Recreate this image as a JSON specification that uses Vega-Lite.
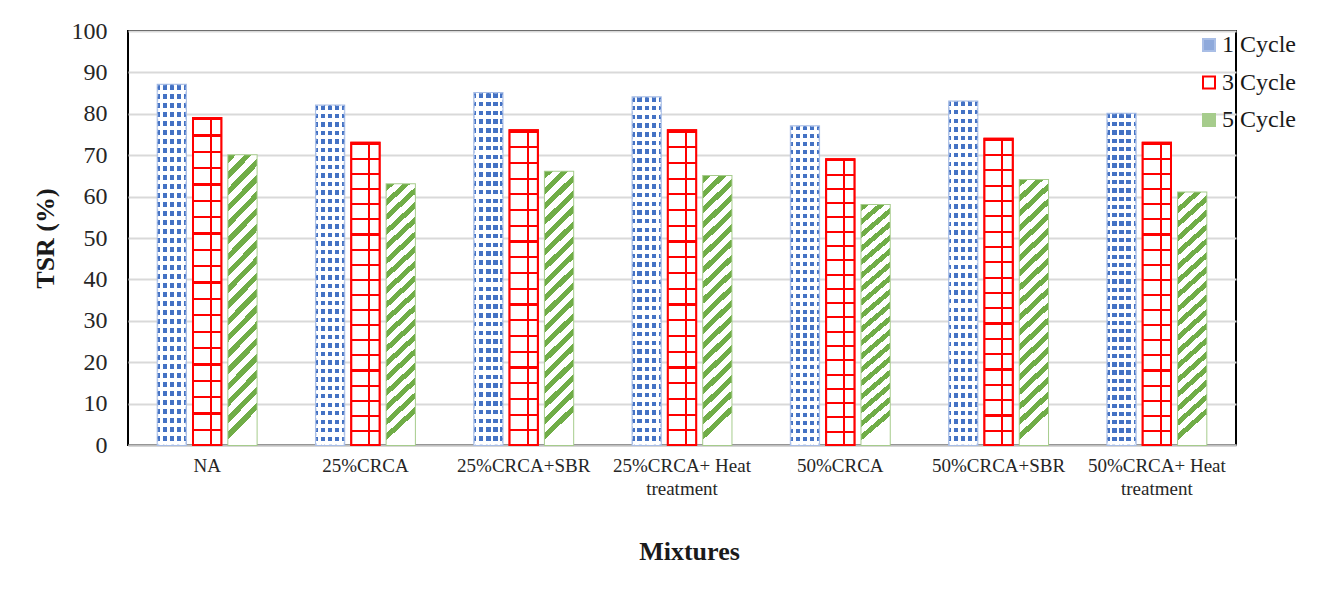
{
"$schema": "https://vega.github.io/schema/vega-lite/v6.json",
"autosize": "none",
"width": 1108,
"height": 414,
"padding": {"left": 128, "top": 31, "right": 93, "bottom": 154},
"background": "#ffffff",
"config": {"font": "Liberation Serif", "view": {"stroke": "#000000", "strokeWidth": 2}},
"data": {"values": [
{"Mixture": "NA", "Cycle": "1 Cycle", "TSR": 87},
{"Mixture": "NA", "Cycle": "3 Cycle", "TSR": 79},
{"Mixture": "NA", "Cycle": "5 Cycle", "TSR": 70},
{"Mixture": "25%CRCA", "Cycle": "1 Cycle", "TSR": 82},
{"Mixture": "25%CRCA", "Cycle": "3 Cycle", "TSR": 73},
{"Mixture": "25%CRCA", "Cycle": "5 Cycle", "TSR": 63},
{"Mixture": "25%CRCA+SBR", "Cycle": "1 Cycle", "TSR": 85},
{"Mixture": "25%CRCA+SBR", "Cycle": "3 Cycle", "TSR": 76},
{"Mixture": "25%CRCA+SBR", "Cycle": "5 Cycle", "TSR": 66},
{"Mixture": "25%CRCA+ Heat treatment", "Cycle": "1 Cycle", "TSR": 84},
{"Mixture": "25%CRCA+ Heat treatment", "Cycle": "3 Cycle", "TSR": 76},
{"Mixture": "25%CRCA+ Heat treatment", "Cycle": "5 Cycle", "TSR": 65},
{"Mixture": "50%CRCA", "Cycle": "1 Cycle", "TSR": 77},
{"Mixture": "50%CRCA", "Cycle": "3 Cycle", "TSR": 69},
{"Mixture": "50%CRCA", "Cycle": "5 Cycle", "TSR": 58},
{"Mixture": "50%CRCA+SBR", "Cycle": "1 Cycle", "TSR": 83},
{"Mixture": "50%CRCA+SBR", "Cycle": "3 Cycle", "TSR": 74},
{"Mixture": "50%CRCA+SBR", "Cycle": "5 Cycle", "TSR": 64},
{"Mixture": "50%CRCA+ Heat treatment", "Cycle": "1 Cycle", "TSR": 80},
{"Mixture": "50%CRCA+ Heat treatment", "Cycle": "3 Cycle", "TSR": 73},
{"Mixture": "50%CRCA+ Heat treatment", "Cycle": "5 Cycle", "TSR": 61}
]},
"encoding": {
"x": {"field": "Mixture", "type": "nominal", "title": "Mixtures",
 "sort": ["NA", "25%CRCA", "25%CRCA+SBR", "25%CRCA+ Heat treatment", "50%CRCA", "50%CRCA+SBR", "50%CRCA+ Heat treatment"],
 "scale": {"paddingInner": 0.375, "paddingOuter": 0.1875},
 "axis": {"labelAngle": 0, "labelFont": "Liberation Serif", "labelFontSize": 19, "labelColor": "#262626", "labelLineHeight": 23, "labelPadding": 11, "labelLimit": 0,
  "labelExpr": "indexof(datum.label, ' treatment') > 0 ? [replace(datum.label, ' treatment', ''), 'treatment'] : datum.label",
  "ticks": false, "domainColor": "#BFBFBF", "domainWidth": 2,
  "titleFont": "Liberation Serif", "titleFontSize": 26, "titleFontWeight": "bold", "titleColor": "#1a1a1a", "titlePadding": 40, "titleX": 561}},
"xOffset": {"field": "Cycle", "type": "nominal", "scale": {"domain": ["1 Cycle", "3 Cycle", "5 Cycle"], "paddingInner": 0.2, "paddingOuter": 0}},
"y": {"field": "TSR", "type": "quantitative", "title": "TSR (%)",
 "scale": {"domain": [0, 100], "nice": false},
 "axis": {"values": [0, 10, 20, 30, 40, 50, 60, 70, 80, 90, 100], "grid": true, "gridColor": "#D9D9D9", "gridWidth": 2, "domain": false, "ticks": false,
  "labelFont": "Liberation Serif", "labelFontSize": 24, "labelColor": "#262626", "labelPadding": 21,
  "titleFont": "Liberation Serif", "titleFontSize": 26, "titleFontWeight": "bold", "titleColor": "#1a1a1a", "titlePadding": 13}}
},
"layer": [
{
"mark": {"type": "bar", "strokeWidth": 2},
"encoding": {
"fill": {"field": "Cycle", "type": "nominal",
 "scale": {"domain": ["1 Cycle", "3 Cycle", "5 Cycle"], "range": ["#8EA9DB", "#ffffff", "#A6CC8C"]},
 "legend": {"title": null, "orient": "none", "legendX": 1069, "legendY": 2, "padding": 0, "symbolType": "square", "symbolSize": 144, "symbolStrokeWidth": 2, "labelFont": "Liberation Serif", "labelFontSize": 24, "labelColor": "#1a1a1a", "labelOffset": 1, "rowPadding": 13.5}},
"stroke": {"field": "Cycle", "type": "nominal",
 "scale": {"domain": ["1 Cycle", "3 Cycle", "5 Cycle"], "range": ["#A9BEE6", "#FF0000", "#A6CC8C"]},
 "legend": {"title": null, "orient": "none", "legendX": 1069, "legendY": 2, "padding": 0, "symbolType": "square", "symbolSize": 144, "symbolStrokeWidth": 2, "labelFont": "Liberation Serif", "labelFontSize": 24, "labelColor": "#1a1a1a", "labelOffset": 1, "rowPadding": 13.5}}
}
},
{
"transform": [{"filter": "datum.Cycle == '1 Cycle'"}],
"mark": {"type": "bar", "stroke": "#A9BEE6", "strokeWidth": 1, "strokeDash": [3, 2], "fill": {"gradient": "linear", "x1": 0, "y1": 0, "x2": 0, "y2": 1, "stops": [
   {"offset":0,"color":"#4472C4"},{"offset":0.013,"color":"#4472C4"},{"offset":0.013,"color":"#ffffff"},{"offset":0.025,"color":"#ffffff"},
   {"offset":0.025,"color":"#4472C4"},{"offset":0.038,"color":"#4472C4"},{"offset":0.038,"color":"#ffffff"},{"offset":0.05,"color":"#ffffff"},
   {"offset":0.05,"color":"#4472C4"},{"offset":0.063,"color":"#4472C4"},{"offset":0.063,"color":"#ffffff"},{"offset":0.075,"color":"#ffffff"},
   {"offset":0.075,"color":"#4472C4"},{"offset":0.088,"color":"#4472C4"},{"offset":0.088,"color":"#ffffff"},{"offset":0.1,"color":"#ffffff"},
   {"offset":0.1,"color":"#4472C4"},{"offset":0.113,"color":"#4472C4"},{"offset":0.113,"color":"#ffffff"},{"offset":0.125,"color":"#ffffff"},
   {"offset":0.125,"color":"#4472C4"},{"offset":0.138,"color":"#4472C4"},{"offset":0.138,"color":"#ffffff"},{"offset":0.15,"color":"#ffffff"},
   {"offset":0.15,"color":"#4472C4"},{"offset":0.163,"color":"#4472C4"},{"offset":0.163,"color":"#ffffff"},{"offset":0.175,"color":"#ffffff"},
   {"offset":0.175,"color":"#4472C4"},{"offset":0.188,"color":"#4472C4"},{"offset":0.188,"color":"#ffffff"},{"offset":0.2,"color":"#ffffff"},
   {"offset":0.2,"color":"#4472C4"},{"offset":0.213,"color":"#4472C4"},{"offset":0.213,"color":"#ffffff"},{"offset":0.225,"color":"#ffffff"},
   {"offset":0.225,"color":"#4472C4"},{"offset":0.238,"color":"#4472C4"},{"offset":0.238,"color":"#ffffff"},{"offset":0.25,"color":"#ffffff"},
   {"offset":0.25,"color":"#4472C4"},{"offset":0.263,"color":"#4472C4"},{"offset":0.263,"color":"#ffffff"},{"offset":0.275,"color":"#ffffff"},
   {"offset":0.275,"color":"#4472C4"},{"offset":0.288,"color":"#4472C4"},{"offset":0.288,"color":"#ffffff"},{"offset":0.3,"color":"#ffffff"},
   {"offset":0.3,"color":"#4472C4"},{"offset":0.313,"color":"#4472C4"},{"offset":0.313,"color":"#ffffff"},{"offset":0.325,"color":"#ffffff"},
   {"offset":0.325,"color":"#4472C4"},{"offset":0.338,"color":"#4472C4"},{"offset":0.338,"color":"#ffffff"},{"offset":0.35,"color":"#ffffff"},
   {"offset":0.35,"color":"#4472C4"},{"offset":0.363,"color":"#4472C4"},{"offset":0.363,"color":"#ffffff"},{"offset":0.375,"color":"#ffffff"},
   {"offset":0.375,"color":"#4472C4"},{"offset":0.388,"color":"#4472C4"},{"offset":0.388,"color":"#ffffff"},{"offset":0.4,"color":"#ffffff"},
   {"offset":0.4,"color":"#4472C4"},{"offset":0.413,"color":"#4472C4"},{"offset":0.413,"color":"#ffffff"},{"offset":0.425,"color":"#ffffff"},
   {"offset":0.425,"color":"#4472C4"},{"offset":0.438,"color":"#4472C4"},{"offset":0.438,"color":"#ffffff"},{"offset":0.45,"color":"#ffffff"},
   {"offset":0.45,"color":"#4472C4"},{"offset":0.463,"color":"#4472C4"},{"offset":0.463,"color":"#ffffff"},{"offset":0.475,"color":"#ffffff"},
   {"offset":0.475,"color":"#4472C4"},{"offset":0.488,"color":"#4472C4"},{"offset":0.488,"color":"#ffffff"},{"offset":0.5,"color":"#ffffff"},
   {"offset":0.5,"color":"#4472C4"},{"offset":0.513,"color":"#4472C4"},{"offset":0.513,"color":"#ffffff"},{"offset":0.525,"color":"#ffffff"},
   {"offset":0.525,"color":"#4472C4"},{"offset":0.538,"color":"#4472C4"},{"offset":0.538,"color":"#ffffff"},{"offset":0.55,"color":"#ffffff"},
   {"offset":0.55,"color":"#4472C4"},{"offset":0.563,"color":"#4472C4"},{"offset":0.563,"color":"#ffffff"},{"offset":0.575,"color":"#ffffff"},
   {"offset":0.575,"color":"#4472C4"},{"offset":0.588,"color":"#4472C4"},{"offset":0.588,"color":"#ffffff"},{"offset":0.6,"color":"#ffffff"},
   {"offset":0.6,"color":"#4472C4"},{"offset":0.613,"color":"#4472C4"},{"offset":0.613,"color":"#ffffff"},{"offset":0.625,"color":"#ffffff"},
   {"offset":0.625,"color":"#4472C4"},{"offset":0.638,"color":"#4472C4"},{"offset":0.638,"color":"#ffffff"},{"offset":0.65,"color":"#ffffff"},
   {"offset":0.65,"color":"#4472C4"},{"offset":0.663,"color":"#4472C4"},{"offset":0.663,"color":"#ffffff"},{"offset":0.675,"color":"#ffffff"},
   {"offset":0.675,"color":"#4472C4"},{"offset":0.688,"color":"#4472C4"},{"offset":0.688,"color":"#ffffff"},{"offset":0.7,"color":"#ffffff"},
   {"offset":0.7,"color":"#4472C4"},{"offset":0.713,"color":"#4472C4"},{"offset":0.713,"color":"#ffffff"},{"offset":0.725,"color":"#ffffff"},
   {"offset":0.725,"color":"#4472C4"},{"offset":0.738,"color":"#4472C4"},{"offset":0.738,"color":"#ffffff"},{"offset":0.75,"color":"#ffffff"},
   {"offset":0.75,"color":"#4472C4"},{"offset":0.763,"color":"#4472C4"},{"offset":0.763,"color":"#ffffff"},{"offset":0.775,"color":"#ffffff"},
   {"offset":0.775,"color":"#4472C4"},{"offset":0.788,"color":"#4472C4"},{"offset":0.788,"color":"#ffffff"},{"offset":0.8,"color":"#ffffff"},
   {"offset":0.8,"color":"#4472C4"},{"offset":0.813,"color":"#4472C4"},{"offset":0.813,"color":"#ffffff"},{"offset":0.825,"color":"#ffffff"},
   {"offset":0.825,"color":"#4472C4"},{"offset":0.838,"color":"#4472C4"},{"offset":0.838,"color":"#ffffff"},{"offset":0.85,"color":"#ffffff"},
   {"offset":0.85,"color":"#4472C4"},{"offset":0.863,"color":"#4472C4"},{"offset":0.863,"color":"#ffffff"},{"offset":0.875,"color":"#ffffff"},
   {"offset":0.875,"color":"#4472C4"},{"offset":0.888,"color":"#4472C4"},{"offset":0.888,"color":"#ffffff"},{"offset":0.9,"color":"#ffffff"},
   {"offset":0.9,"color":"#4472C4"},{"offset":0.913,"color":"#4472C4"},{"offset":0.913,"color":"#ffffff"},{"offset":0.925,"color":"#ffffff"},
   {"offset":0.925,"color":"#4472C4"},{"offset":0.938,"color":"#4472C4"},{"offset":0.938,"color":"#ffffff"},{"offset":0.95,"color":"#ffffff"},
   {"offset":0.95,"color":"#4472C4"},{"offset":0.963,"color":"#4472C4"},{"offset":0.963,"color":"#ffffff"},{"offset":0.975,"color":"#ffffff"},
   {"offset":0.975,"color":"#4472C4"},{"offset":0.988,"color":"#4472C4"},{"offset":0.988,"color":"#ffffff"},{"offset":1,"color":"#ffffff"}
]}},
"encoding": {}
},
{
"transform": [{"filter": "datum.Cycle == '1 Cycle'"}],
"mark": {"type": "bar", "fill": {"gradient": "linear", "x1": 0, "y1": 0, "x2": 1, "y2": 0, "stops": [
 {"offset":0,"color":"rgba(255,255,255,0)"},{"offset":0.075,"color":"rgba(255,255,255,0)"},{"offset":0.075,"color":"#ffffff"},{"offset":0.175,"color":"#ffffff"},
 {"offset":0.175,"color":"rgba(255,255,255,0)"},{"offset":0.325,"color":"rgba(255,255,255,0)"},{"offset":0.325,"color":"#ffffff"},{"offset":0.425,"color":"#ffffff"},
 {"offset":0.425,"color":"rgba(255,255,255,0)"},{"offset":0.575,"color":"rgba(255,255,255,0)"},{"offset":0.575,"color":"#ffffff"},{"offset":0.675,"color":"#ffffff"},
 {"offset":0.675,"color":"rgba(255,255,255,0)"},{"offset":0.825,"color":"rgba(255,255,255,0)"},{"offset":0.825,"color":"#ffffff"},{"offset":0.925,"color":"#ffffff"},
 {"offset":0.925,"color":"rgba(255,255,255,0)"},{"offset":1,"color":"rgba(255,255,255,0)"}
]}},
"encoding": {}
},
{
"transform": [{"filter": "datum.Cycle == '3 Cycle'"}],
"mark": {"type": "bar", "stroke": "#FF0000", "strokeWidth": 2, "fill": {"gradient": "linear", "x1": 0, "y1": 0, "x2": 0, "y2": 1, "stops": [
   {"offset":0,"color":"#FF0000"},{"offset":0.007,"color":"#FF0000"},{"offset":0.007,"color":"#ffffff"},{"offset":0.05,"color":"#ffffff"},
   {"offset":0.05,"color":"#FF0000"},{"offset":0.057,"color":"#FF0000"},{"offset":0.057,"color":"#ffffff"},{"offset":0.1,"color":"#ffffff"},
   {"offset":0.1,"color":"#FF0000"},{"offset":0.107,"color":"#FF0000"},{"offset":0.107,"color":"#ffffff"},{"offset":0.15,"color":"#ffffff"},
   {"offset":0.15,"color":"#FF0000"},{"offset":0.157,"color":"#FF0000"},{"offset":0.157,"color":"#ffffff"},{"offset":0.2,"color":"#ffffff"},
   {"offset":0.2,"color":"#FF0000"},{"offset":0.207,"color":"#FF0000"},{"offset":0.207,"color":"#ffffff"},{"offset":0.25,"color":"#ffffff"},
   {"offset":0.25,"color":"#FF0000"},{"offset":0.257,"color":"#FF0000"},{"offset":0.257,"color":"#ffffff"},{"offset":0.3,"color":"#ffffff"},
   {"offset":0.3,"color":"#FF0000"},{"offset":0.307,"color":"#FF0000"},{"offset":0.307,"color":"#ffffff"},{"offset":0.35,"color":"#ffffff"},
   {"offset":0.35,"color":"#FF0000"},{"offset":0.357,"color":"#FF0000"},{"offset":0.357,"color":"#ffffff"},{"offset":0.4,"color":"#ffffff"},
   {"offset":0.4,"color":"#FF0000"},{"offset":0.407,"color":"#FF0000"},{"offset":0.407,"color":"#ffffff"},{"offset":0.45,"color":"#ffffff"},
   {"offset":0.45,"color":"#FF0000"},{"offset":0.457,"color":"#FF0000"},{"offset":0.457,"color":"#ffffff"},{"offset":0.5,"color":"#ffffff"},
   {"offset":0.5,"color":"#FF0000"},{"offset":0.507,"color":"#FF0000"},{"offset":0.507,"color":"#ffffff"},{"offset":0.55,"color":"#ffffff"},
   {"offset":0.55,"color":"#FF0000"},{"offset":0.557,"color":"#FF0000"},{"offset":0.557,"color":"#ffffff"},{"offset":0.6,"color":"#ffffff"},
   {"offset":0.6,"color":"#FF0000"},{"offset":0.607,"color":"#FF0000"},{"offset":0.607,"color":"#ffffff"},{"offset":0.65,"color":"#ffffff"},
   {"offset":0.65,"color":"#FF0000"},{"offset":0.657,"color":"#FF0000"},{"offset":0.657,"color":"#ffffff"},{"offset":0.7,"color":"#ffffff"},
   {"offset":0.7,"color":"#FF0000"},{"offset":0.707,"color":"#FF0000"},{"offset":0.707,"color":"#ffffff"},{"offset":0.75,"color":"#ffffff"},
   {"offset":0.75,"color":"#FF0000"},{"offset":0.757,"color":"#FF0000"},{"offset":0.757,"color":"#ffffff"},{"offset":0.8,"color":"#ffffff"},
   {"offset":0.8,"color":"#FF0000"},{"offset":0.807,"color":"#FF0000"},{"offset":0.807,"color":"#ffffff"},{"offset":0.85,"color":"#ffffff"},
   {"offset":0.85,"color":"#FF0000"},{"offset":0.857,"color":"#FF0000"},{"offset":0.857,"color":"#ffffff"},{"offset":0.9,"color":"#ffffff"},
   {"offset":0.9,"color":"#FF0000"},{"offset":0.907,"color":"#FF0000"},{"offset":0.907,"color":"#ffffff"},{"offset":0.95,"color":"#ffffff"},
   {"offset":0.95,"color":"#FF0000"},{"offset":0.957,"color":"#FF0000"},{"offset":0.957,"color":"#ffffff"},{"offset":1,"color":"#ffffff"}
]}},
"encoding": {}
},
{
"transform": [{"filter": "datum.Cycle == '3 Cycle'"}],
"mark": {"type": "bar", "fill": {"gradient": "linear", "x1": 0, "y1": 0, "x2": 1, "y2": 0, "stops": [
 {"offset":0,"color":"rgba(255,255,255,0)"},{"offset":0.6,"color":"rgba(255,255,255,0)"},{"offset":0.6,"color":"#FF0000"},{"offset":0.67,"color":"#FF0000"},
 {"offset":0.67,"color":"rgba(255,255,255,0)"},{"offset":1,"color":"rgba(255,255,255,0)"}
]}},
"encoding": {}
},
{
"transform": [{"filter": "datum.Cycle == '5 Cycle'"}],
"mark": {"type": "bar", "fill": {"gradient": "linear", "x1": 0, "y1": 0, "x2": 0.1, "y2": 1, "stops": [
   {"offset":0,"color":"#70AD47"},{"offset":0.026,"color":"#70AD47"},{"offset":0.026,"color":"#ffffff"},{"offset":0.0556,"color":"#ffffff"},
   {"offset":0.0556,"color":"#70AD47"},{"offset":0.0816,"color":"#70AD47"},{"offset":0.0816,"color":"#ffffff"},{"offset":0.1111,"color":"#ffffff"},
   {"offset":0.1111,"color":"#70AD47"},{"offset":0.1371,"color":"#70AD47"},{"offset":0.1371,"color":"#ffffff"},{"offset":0.1667,"color":"#ffffff"},
   {"offset":0.1667,"color":"#70AD47"},{"offset":0.1927,"color":"#70AD47"},{"offset":0.1927,"color":"#ffffff"},{"offset":0.2222,"color":"#ffffff"},
   {"offset":0.2222,"color":"#70AD47"},{"offset":0.2482,"color":"#70AD47"},{"offset":0.2482,"color":"#ffffff"},{"offset":0.2778,"color":"#ffffff"},
   {"offset":0.2778,"color":"#70AD47"},{"offset":0.3038,"color":"#70AD47"},{"offset":0.3038,"color":"#ffffff"},{"offset":0.3333,"color":"#ffffff"},
   {"offset":0.3333,"color":"#70AD47"},{"offset":0.3593,"color":"#70AD47"},{"offset":0.3593,"color":"#ffffff"},{"offset":0.3889,"color":"#ffffff"},
   {"offset":0.3889,"color":"#70AD47"},{"offset":0.4149,"color":"#70AD47"},{"offset":0.4149,"color":"#ffffff"},{"offset":0.4444,"color":"#ffffff"},
   {"offset":0.4444,"color":"#70AD47"},{"offset":0.4704,"color":"#70AD47"},{"offset":0.4704,"color":"#ffffff"},{"offset":0.5,"color":"#ffffff"},
   {"offset":0.5,"color":"#70AD47"},{"offset":0.526,"color":"#70AD47"},{"offset":0.526,"color":"#ffffff"},{"offset":0.5556,"color":"#ffffff"},
   {"offset":0.5556,"color":"#70AD47"},{"offset":0.5816,"color":"#70AD47"},{"offset":0.5816,"color":"#ffffff"},{"offset":0.6111,"color":"#ffffff"},
   {"offset":0.6111,"color":"#70AD47"},{"offset":0.6371,"color":"#70AD47"},{"offset":0.6371,"color":"#ffffff"},{"offset":0.6667,"color":"#ffffff"},
   {"offset":0.6667,"color":"#70AD47"},{"offset":0.6927,"color":"#70AD47"},{"offset":0.6927,"color":"#ffffff"},{"offset":0.7222,"color":"#ffffff"},
   {"offset":0.7222,"color":"#70AD47"},{"offset":0.7482,"color":"#70AD47"},{"offset":0.7482,"color":"#ffffff"},{"offset":0.7778,"color":"#ffffff"},
   {"offset":0.7778,"color":"#70AD47"},{"offset":0.8038,"color":"#70AD47"},{"offset":0.8038,"color":"#ffffff"},{"offset":0.8333,"color":"#ffffff"},
   {"offset":0.8333,"color":"#70AD47"},{"offset":0.8593,"color":"#70AD47"},{"offset":0.8593,"color":"#ffffff"},{"offset":0.8889,"color":"#ffffff"},
   {"offset":0.8889,"color":"#70AD47"},{"offset":0.9149,"color":"#70AD47"},{"offset":0.9149,"color":"#ffffff"},{"offset":0.9444,"color":"#ffffff"},
   {"offset":0.9444,"color":"#70AD47"},{"offset":0.9704,"color":"#70AD47"},{"offset":0.9704,"color":"#ffffff"},{"offset":1,"color":"#ffffff"}
]}},
"encoding": {}
}
]
}
